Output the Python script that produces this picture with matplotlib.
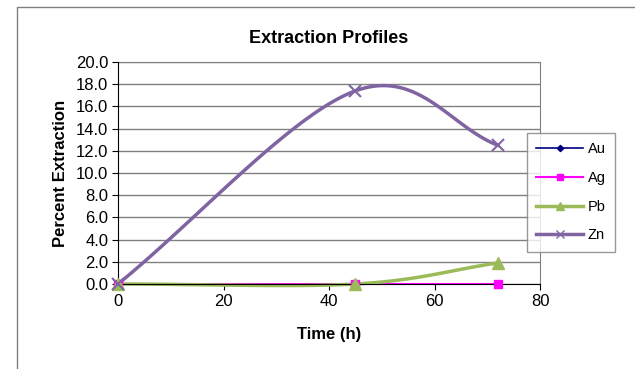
import numpy as np
import matplotlib.pyplot as plt
from matplotlib.patches import Rectangle

plt.rcParams['font.family'] = ['Liberation Sans', 'DejaVu Sans']

# datos
time_h = [0, 45, 72]
au = [0.0, 0.0, 0.0]
ag = [0.0, 0.0, 0.0]
pb = [0.0, 0.0, 1.9]
zn = [0.0, 17.4, 12.5]


def suavizar(x, y, n=40):
    # curva suave tipo Excel (Bezier con tangentes Catmull-Rom)
    p = np.column_stack([x, y]).astype(float)
    m = len(p)
    xs, ys = [], []
    for i in range(m - 1):
        if i > 0:
            c1 = p[i] + (p[i + 1] - p[i - 1]) / 6
        else:
            c1 = p[i] + (p[i + 1] - p[i]) / 3
        if i + 2 < m:
            c2 = p[i + 1] - (p[i + 2] - p[i]) / 6
        else:
            c2 = p[i + 1] - (p[i + 1] - p[i]) / 3
        t = np.linspace(0, 1, n)[:, None]
        b = ((1 - t) ** 3 * p[i] + 3 * (1 - t) ** 2 * t * c1
             + 3 * (1 - t) * t ** 2 * c2 + t ** 3 * p[i + 1])
        xs.extend(b[:, 0])
        ys.extend(b[:, 1])
    return np.array(xs), np.array(ys)


fig = plt.figure(figsize=(6.35, 3.69), dpi=100)
ax = fig.add_axes([118 / 635, 1 - 284 / 369, 422 / 635, 222 / 369])

# marco exterior del grafico
fig.patches.append(Rectangle((17 / 635, -0.1), 1.0, 1 - 7 / 369 + 0.1,
                             transform=fig.transFigure, fill=False,
                             edgecolor='#808080', linewidth=1.0))

series = [
    ('Au', au, '#000080', 'D', 4, 1.2),
    ('Ag', ag, '#FF00FF', 's', 6, 1.5),
    ('Pb', pb, '#9BBB59', '^', 8, 2.5),
    ('Zn', zn, '#8064A2', 'x', 8, 2.5),
]
for nombre, vals, color, marca, ms, lw in series:
    sx, sy = suavizar(time_h, vals)
    ax.plot(sx, sy, color=color, linewidth=lw, zorder=3, clip_on=False)
    ax.plot(time_h, vals, linestyle='none', marker=marca, markersize=ms,
            color=color, markeredgewidth=1.5 if marca == 'x' else 1,
            zorder=6, clip_on=False)
    ax.plot([], [], color=color, linewidth=lw, marker=marca,
            markersize=ms * 0.8, label=nombre)

ax.set_xlim(0, 80)
ax.set_ylim(0, 20)
ax.set_xticks([0, 20, 40, 60, 80])
ax.set_yticks(np.arange(0, 20.1, 2))
ax.set_yticklabels([f'{v:.1f}' for v in np.arange(0, 20.1, 2)])
ax.tick_params(labelsize=12, length=4, direction='out', color='black', pad=3)
ax.grid(axis='y', color='#808080', linewidth=1.0)
ax.set_axisbelow(True)
for lado in ['top', 'right']:
    ax.spines[lado].set_color('#808080')
for lado in ['left', 'bottom']:
    ax.spines[lado].set_color('black')
ax.spines['left'].set_zorder(5)
ax.spines['bottom'].set_zorder(5)

ax.set_title('Extraction Profiles', fontsize=13, fontweight='bold', pad=14)
ax.set_xlabel('Time (h)', fontsize=12, fontweight='bold', labelpad=13)
ax.set_ylabel('Percent Extraction', fontsize=12, fontweight='bold', labelpad=6)

leg = ax.legend(loc='upper left', bbox_to_anchor=(527 / 635, 1 - 133 / 369),
                bbox_transform=fig.transFigure, fontsize=10.5, frameon=True,
                fancybox=False, edgecolor='#808080', handlelength=3.2,
                labelspacing=1.0, borderpad=0.65, handletextpad=0.3,
                borderaxespad=0)
leg.get_frame().set_linewidth(1.0)
leg.set_zorder(10)

fig.savefig('out.png', dpi=100)
